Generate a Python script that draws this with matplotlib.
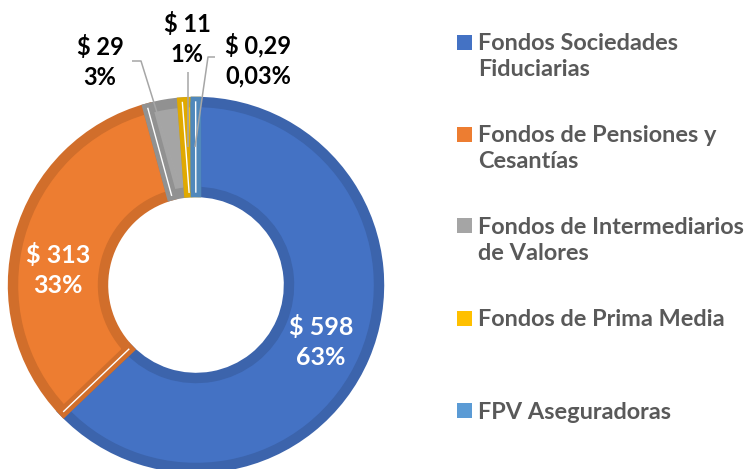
import numpy as np
import matplotlib.pyplot as plt
import matplotlib.colors as mcolors
from matplotlib.patches import Rectangle

plt.rcParams['font.family'] = ['Lato', 'DejaVu Sans']

# Data
categories = ['Fondos Sociedades\nFiduciarias', 'Fondos de Pensiones y\nCesantías',
              'Fondos de Intermediarios\nde Valores', 'Fondos de Prima Media',
              'FPV Aseguradoras']
values = [598, 313, 29, 11, 0.29]
value_labels = ['$ 598', '$ 313', '$ 29', '$ 11', '$ 0,29']
pct_labels = ['63%', '33%', '3%', '1%', '0,03%']
colors = ['#4472C4', '#ED7D31', '#A5A5A5', '#FFC000', '#5B9BD5']

W, H = 751, 469
fig = plt.figure(figsize=(W / 100, H / 100), dpi=100)
ax = fig.add_axes([0, 0, 1, 1])

# donut geometry in pixel units (y measured from top -> H - y)
cx, cy = 196, H - 285
R, ring = 183, 90


def darker(c, f=0.88):
    r, g, b = mcolors.to_rgb(c)
    return (r * f, g * f, b * f)


wedges, _ = ax.pie(values, colors=colors, startangle=90, counterclock=False,
                   radius=R, center=(cx, cy),
                   wedgeprops=dict(width=ring, linewidth=7.5))
for w, c in zip(wedges, colors):
    w.set_edgecolor(darker(c))
    w.set_clip_path(w.get_path(), w.get_transform())  # inner half of border only

# thin white gaps between slices (skip the near-zero slice)
for w in wedges:
    if w.theta2 - w.theta1 < 0.5:
        continue
    t = np.deg2rad(w.theta1)
    ax.plot([cx + (R - ring) * np.cos(t), cx + R * np.cos(t)],
            [cy + (R - ring) * np.sin(t), cy + R * np.sin(t)],
            color='white', lw=1.0)

# labels inside the ring
inside = {0: (321, 342), 1: (58, 270)}
for i, (x, y) in inside.items():
    ax.text(x, H - y, value_labels[i] + '\n' + pct_labels[i], color='white',
            fontsize=18, fontweight='bold', ha='center', va='center',
            linespacing=1.35)

# labels outside with leader lines
outside = {2: (100, 62), 3: (187, 39), 4: (258, 60)}
leaders = {2: [(132, 61), (141, 61), (178, 180)],
           3: [(188, 72), (188, 147)],
           4: [(215, 57), (208, 57), (195, 147)]}
for i, (x, y) in outside.items():
    ax.text(x, H - y, value_labels[i] + '\n' + pct_labels[i], color='black',
            fontsize=17, fontweight='bold', ha='center', va='center',
            linespacing=1.35)
    pts = leaders[i]
    ax.plot([p[0] for p in pts], [H - p[1] for p in pts], color='#A6A6A6',
            lw=1.1, solid_capstyle='butt')

# legend
leg_y = [42, 134, 226, 318, 411]
for lab, c, y in zip(categories, colors, leg_y):
    ax.add_patch(Rectangle((457, H - y - 7.5), 15, 15, facecolor=c,
                           edgecolor='none'))
    ax.text(478, H - y + 9, lab, color='#595959', fontsize=16.9,
            fontweight='bold', ha='left', va='top', linespacing=1.28)

ax.set_xlim(0, W)
ax.set_ylim(0, H)
ax.set_aspect('equal')
ax.axis('off')

fig.savefig('out.png', dpi=100)
